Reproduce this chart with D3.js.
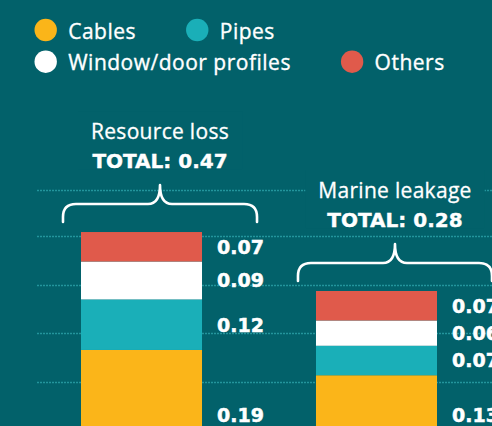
<!DOCTYPE html>
<html>
<head>
<meta charset="utf-8">
<script src="https://cdn.jsdelivr.net/npm/d3@7/dist/d3.min.js"></script>
<style>
  html, body { margin: 0; padding: 0; background: #02616a; }
  svg { display: block; }
</style>
</head>
<body>
<svg id="chart" width="492" height="426"></svg>
<script>
// ---- data ----
const groups = ["Resource loss", "Marine leakage"];
const totals = ["0.47", "0.28"];
const series = ["Cables", "Pipes", "Window/door profiles", "Others"];
const cables = [0.19, 0.13];
const pipes = [0.12, 0.07];
const profiles = [0.09, 0.06];
const others = [0.07, 0.07];
const gridValues = [0.115, 0.23, 0.345, 0.46, 0.57];
const colors = ["#fbb519", "#1aafb8", "#ffffff", "#e05a4b"];

// ---- setup ----
const W = 492, H = 426, BG = "#02616a";
const svg = d3.select("#chart");
svg.append("rect").attr("width", W).attr("height", H).attr("fill", BG);

const table = groups.map((g, i) => ({
  group: g, total: totals[i],
  "Cables": cables[i], "Pipes": pipes[i],
  "Window/door profiles": profiles[i], "Others": others[i]
}));
const stacked = d3.stack().keys(series)(table);

const x = d3.scaleBand().domain(groups).range([81, 437]).paddingInner(0.485).paddingOuter(0);
const y = d3.scaleLinear().domain([0, 0.5]).range([430, 219.4]);
const color = d3.scaleOrdinal().domain(series).range(colors);

const sansFont = "'Open Sans', sans-serif";
const valFont = "'DejaVu Sans', sans-serif";

// gridlines
svg.append("g").selectAll("line").data(gridValues).join("line")
  .attr("x1", 37).attr("x2", W)
  .attr("y1", d => Math.round(y(d)) + 0.5).attr("y2", d => Math.round(y(d)) + 0.5)
  .attr("stroke", "#23959c").attr("stroke-width", 1.3)
  .attr("stroke-dasharray", "2,1");

// bars
const layers = svg.append("g").selectAll("g").data(stacked).join("g")
  .attr("fill", d => color(d.key));
layers.selectAll("rect").data(d => d).join("rect")
  .attr("x", d => x(d.data.group))
  .attr("width", x.bandwidth())
  .attr("y", d => y(d[1]))
  .attr("height", d => y(d[0]) - y(d[1]));

// value labels
stacked.forEach((layer, li) => {
  svg.append("g").selectAll("text").data(layer).join("text")
    .attr("x", d => x(d.data.group) + x.bandwidth() + 15)
    .attr("y", d => li === 0 ? y(0) - 15 : (y(d[0]) + y(d[1])) / 2)
    .attr("dy", "0.36em")
    .attr("fill", "#fff")
    .attr("font-family", valFont).attr("font-weight", "bold").attr("font-size", 19)
    .attr("stroke", "#fff").attr("stroke-width", 0.5)
    .text(d => d3.format(".2f")(d[1] - d[0]));
});

// braces + titles
const tops = stacked[stacked.length - 1];
tops.forEach((d, i) => {
  const top = y(d[1]);
  const bx = x(d.data.group);
  const x0 = bx - 18, x1 = bx + x.bandwidth() + 55, xc = (x0 + x1) / 2;
  const tip = top - 47, yh = tip + 19, yb = tip + 37;
  const r = 13, r2 = 12;
  const p = d3.path();
  p.moveTo(x0, yb);
  p.lineTo(x0, yh + r);
  p.quadraticCurveTo(x0, yh, x0 + r, yh);
  p.lineTo(xc - r2, yh);
  p.quadraticCurveTo(xc, yh, xc, tip);
  p.quadraticCurveTo(xc, yh, xc + r2, yh);
  p.lineTo(x1 - r, yh);
  p.quadraticCurveTo(x1, yh, x1, yh + r);
  p.lineTo(x1, yb);
  svg.append("path").attr("d", p.toString())
    .attr("fill", "none").attr("stroke", "#fff").attr("stroke-width", 2.6)
    .attr("stroke-linecap", "round").attr("stroke-linejoin", "round");

  const tg = svg.append("g");
  const bgRect = tg.append("rect").attr("fill", BG);
  const t1 = tg.append("text").attr("x", xc).attr("y", tip - 46)
    .attr("text-anchor", "middle").attr("fill", "#fff")
    .attr("font-family", sansFont).attr("font-size", 21)
    .attr("letter-spacing", 0.3).attr("stroke", "#fff").attr("stroke-width", 0.3)
    .text(d.data.group);
  const t2 = tg.append("text").attr("x", xc).attr("y", tip - 17)
    .attr("text-anchor", "middle").attr("fill", "#fff")
    .attr("font-family", valFont).attr("font-weight", "bold").attr("font-size", 20)
    .attr("stroke", "#fff").attr("stroke-width", 0.4)
    .text("TOTAL: " + d.data.total);
  const b1 = t1.node().getBBox(), b2 = t2.node().getBBox();
  const bx0 = Math.min(b1.x, b2.x) - 13, bx1 = Math.max(b1.x + b1.width, b2.x + b2.width) + 13;
  bgRect.attr("x", bx0).attr("y", b1.y - 6).attr("width", bx1 - bx0).attr("height", b2.y + b2.height - b1.y + 2);
});

// legend (flow layout, two rows)
const legendRows = [[0, 1], [2, 3]];
legendRows.forEach((row, ri) => {
  let cx = 45.7;
  const cy = 30 + ri * 31.7;
  row.forEach(si => {
    svg.append("circle").attr("cx", cx).attr("cy", cy).attr("r", 11.2).attr("fill", colors[si]);
    const t = svg.append("text").attr("x", cx + 22.5).attr("y", cy + 8.6)
      .attr("fill", "#fff").attr("font-family", sansFont)
      .attr("font-size", 21).attr("letter-spacing", 0.5)
      .attr("stroke", "#fff").attr("stroke-width", 0.35)
      .text(series[si]);
    cx = cx + 22.5 + t.node().getComputedTextLength() + 50 + 11.2;
  });
});
</script>
</body>
</html>
